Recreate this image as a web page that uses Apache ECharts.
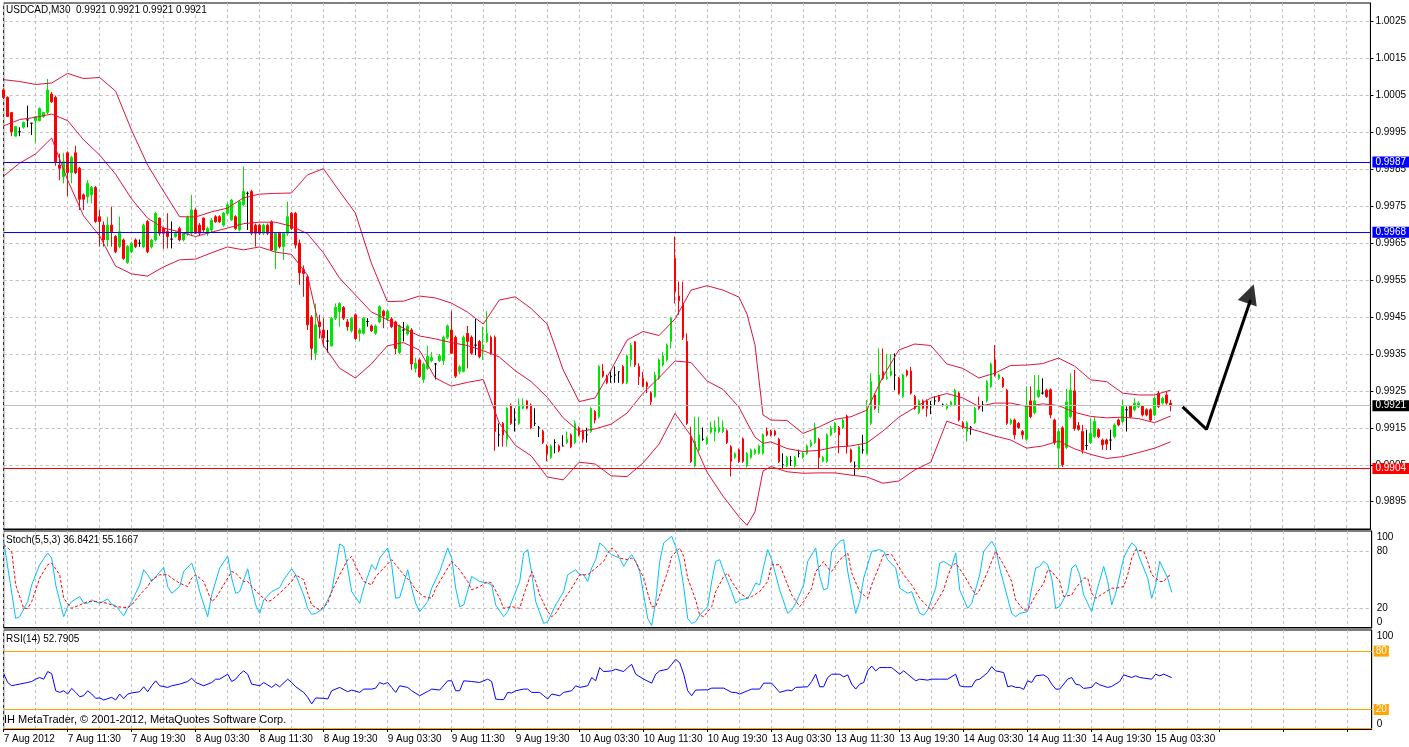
<!DOCTYPE html>
<html><head><meta charset="utf-8">
<script src="https://cdn.jsdelivr.net/npm/echarts@6/dist/echarts.min.js"></script>
<style>html,body{margin:0;padding:0;background:#fff}#c{width:1409px;height:747px}</style>
</head><body><div id="c"></div>
<script>
// ---- DATA (prices in pips: 0.9921 -> 9921) ----
const xLabels = ['7 Aug 2012','7 Aug 11:30','7 Aug 19:30','8 Aug 03:30','8 Aug 11:30','8 Aug 19:30','9 Aug 03:30','9 Aug 11:30','9 Aug 19:30','10 Aug 03:30','10 Aug 11:30','10 Aug 19:30','13 Aug 03:30','13 Aug 11:30','13 Aug 19:30','14 Aug 03:30','14 Aug 11:30','14 Aug 19:30','15 Aug 03:30'];
const priceTicks = [9895,9905,9915,9925,9935,9945,9955,9965,9975,9985,9995,10005,10015,10025];
const stochLabelTicks = [0,20,80,100];
const stochGridTicks = [20,80];
const rsiLevels = [80,20];
const rsiFloor = 0.6;
const hLevels = [9987,9968,9904,9921];
const hColors = ['#0000ff','#0000ff','#ff0000','#c0c0c0'];
const hLabelBg = ['#0000ff','#0000ff','#ff0000','#000000'];
// candles: [open, high, low, close]
const candles = [
[10006.5,10007.0,10004.5,10004.5],[10004.5,10004.8,9999.3,9999.3],[10000.4,10000.6,9994.0,9995.2],[9994.0,9996.6,9994.0,9996.6],
[9995.2,9996.4,9994.0,9995.2],[9996.4,9998.0,9996.0,9997.7],[9998.4,10002.3,9996.4,9998.4],[9997.5,9997.5,9994.3,9997.5],
[9998.2,9999.5,9992.2,9999.3],[9998.2,10001.8,9998.0,10001.5],[9999.3,10000.6,9999.0,10000.4],[10000.4,10009.5,10000.0,10006.5],
[10005.4,10006.0,10003.0,10003.3],[10004.5,10005.0,9986.0,9987.1],[9986.2,9989.3,9982.1,9985.3],[9983.0,9989.5,9981.2,9987.1],
[9989.5,9989.9,9977.8,9984.1],[9984.1,9988.7,9981.2,9988.3],[9989.5,9991.4,9983.7,9984.1],[9985.3,9985.7,9974.0,9976.9],
[9978.1,9978.5,9974.0,9976.9],[9977.6,9982.1,9975.8,9981.2],[9978.1,9980.5,9975.8,9980.1],[9980.1,9980.5,9970.5,9970.9],
[9972.2,9974.0,9964.1,9970.9],[9969.9,9970.9,9964.1,9965.9],[9965.9,9972.2,9964.1,9969.9],[9969.9,9974.9,9964.1,9968.1],
[9966.8,9967.2,9962.3,9962.7],[9964.1,9972.2,9963.7,9968.1],[9965.9,9966.3,9960.5,9960.9],[9959.8,9964.5,9959.4,9964.1],
[9962.7,9965.4,9962.3,9965.0],[9965.9,9966.3,9963.7,9964.1],[9965.0,9966.0,9964.0,9965.0],[9964.1,9970.3,9963.7,9969.9],
[9970.9,9971.3,9962.3,9962.7],[9964.0,9966.3,9963.6,9965.9],[9965.9,9973.5,9965.5,9973.1],[9971.8,9972.0,9967.0,9967.7],
[9969.0,9969.5,9963.5,9967.7],[9968.2,9973.1,9963.6,9966.8],[9966.1,9970.9,9963.6,9966.1],[9966.8,9968.2,9966.5,9967.7],
[9969.0,9969.5,9965.5,9965.9],[9965.9,9968.0,9965.5,9967.7],[9967.7,9972.5,9967.0,9972.0],[9967.7,9978.1,9967.0,9974.0],
[9974.0,9974.5,9967.5,9967.7],[9969.9,9970.5,9967.0,9967.7],[9971.8,9972.0,9968.0,9968.6],[9967.7,9969.5,9967.0,9969.0],
[9968.6,9971.8,9968.0,9971.3],[9972.2,9972.6,9970.5,9970.8],[9972.2,9972.6,9970.5,9970.8],[9969.9,9973.5,9969.5,9973.1],
[9973.1,9976.0,9972.6,9975.4],[9971.3,9977.0,9971.0,9976.7],[9972.2,9972.6,9968.6,9969.0],[9968.6,9976.7,9968.2,9976.3],
[9975.4,9985.8,9975.0,9979.0],[9978.5,9979.0,9968.6,9978.5],[9979.0,9979.5,9967.2,9967.7],[9969.9,9970.3,9964.1,9967.7],
[9969.9,9970.3,9967.2,9967.7],[9967.7,9970.3,9967.2,9969.9],[9969.9,9970.3,9967.2,9967.7],[9970.8,9971.2,9963.0,9963.2],
[9963.0,9968.0,9958.0,9967.7],[9967.7,9968.0,9963.6,9964.1],[9964.1,9968.0,9960.5,9967.7],[9967.7,9976.3,9967.0,9972.2],
[9973.1,9973.5,9968.6,9969.0],[9973.1,9973.5,9963.6,9964.5],[9965.0,9966.0,9953.7,9957.0],[9957.9,9959.0,9950.5,9956.8],
[9955.9,9956.5,9941.5,9942.9],[9945.0,9945.5,9933.4,9936.5],[9935.2,9948.7,9933.4,9942.9],[9943.7,9945.6,9939.2,9942.4],
[9941.5,9944.7,9937.0,9939.4],[9938.5,9941.5,9935.4,9938.5],[9937.2,9945.0,9937.0,9944.7],[9944.7,9948.7,9944.2,9947.6],
[9946.5,9949.0,9942.4,9948.7],[9947.6,9948.0,9944.2,9944.7],[9943.7,9944.5,9941.3,9942.4],[9941.3,9945.0,9940.8,9944.7],
[9945.6,9946.0,9938.8,9939.2],[9940.6,9942.0,9938.4,9941.5],[9940.6,9945.0,9940.2,9944.7],[9943.8,9944.7,9942.4,9943.8],
[9942.6,9943.0,9941.0,9941.3],[9940.6,9943.0,9940.2,9942.6],[9943.7,9948.2,9943.3,9947.8],[9946.6,9947.0,9942.0,9945.3],
[9944.5,9947.0,9944.0,9946.6],[9944.5,9945.0,9942.0,9942.4],[9943.7,9944.0,9935.0,9936.5],[9935.4,9943.0,9935.0,9942.6],
[9941.5,9943.7,9938.4,9941.5],[9940.4,9943.0,9940.0,9942.6],[9941.5,9942.0,9930.7,9932.3],[9931.1,9934.0,9930.0,9932.5],
[9933.4,9933.8,9928.5,9928.9],[9928.1,9932.7,9927.2,9932.3],[9931.1,9937.2,9930.7,9934.3],[9933.2,9935.5,9932.8,9934.0],
[9932.3,9932.5,9928.1,9932.3],[9933.2,9935.0,9932.8,9934.5],[9933.2,9940.0,9932.0,9939.5],[9939.5,9943.0,9939.0,9942.6],
[9941.5,9946.6,9935.0,9935.2],[9939.5,9940.0,9928.5,9929.0],[9930.3,9932.0,9929.5,9931.5],[9930.3,9940.0,9930.0,9939.5],
[9940.6,9942.6,9931.1,9938.4],[9939.5,9940.0,9934.8,9935.2],[9937.4,9944.5,9934.7,9937.4],[9938.4,9938.8,9933.8,9934.3],
[9936.3,9942.4,9933.4,9937.4],[9938.4,9946.6,9938.0,9940.6],[9939.5,9940.0,9934.8,9935.2],[9939.5,9940.0,9908.8,9914.0],
[9913.1,9916.2,9909.9,9913.1],[9916.2,9916.6,9909.9,9913.1],[9911.9,9920.6,9909.9,9920.3],[9921.2,9921.6,9915.8,9916.2],
[9917.1,9920.3,9914.0,9917.1],[9916.2,9923.0,9915.8,9921.2],[9920.3,9923.0,9920.0,9921.2],[9922.3,9922.6,9920.0,9920.3],
[9921.2,9921.6,9914.6,9915.0],[9916.2,9920.3,9915.5,9916.2],[9915.0,9915.5,9912.5,9915.0],[9914.1,9914.5,9910.6,9911.0],
[9910.1,9910.5,9905.9,9907.9],[9907.0,9910.5,9906.6,9910.1],[9911.0,9911.9,9908.1,9911.0],[9910.1,9910.5,9908.4,9908.8],
[9910.1,9913.0,9910.0,9910.1],[9911.0,9914.0,9910.6,9911.9],[9913.1,9913.5,9909.5,9909.9],[9911.0,9917.0,9910.6,9916.2],
[9915.0,9915.4,9912.7,9913.1],[9914.1,9914.5,9911.0,9911.9],[9913.1,9915.0,9911.0,9913.1],[9914.0,9920.6,9913.6,9920.3],
[9919.4,9919.8,9916.2,9917.1],[9918.0,9932.0,9917.6,9931.6],[9930.4,9932.3,9928.6,9929.0],[9929.0,9929.4,9926.8,9927.2],
[9928.9,9930.2,9927.2,9928.9],[9929.3,9931.6,9927.2,9929.3],[9930.2,9930.2,9927.2,9930.2],[9931.6,9932.0,9926.8,9927.2],
[9927.2,9934.9,9926.8,9934.5],[9933.4,9938.0,9931.6,9937.4],[9938.3,9938.5,9931.5,9932.0],[9931.6,9932.5,9926.6,9928.9],
[9928.4,9930.2,9926.0,9926.2],[9927.2,9927.6,9924.4,9926.2],[9924.5,9924.9,9921.2,9922.1],[9923.5,9930.2,9923.1,9929.3],
[9928.4,9933.8,9928.0,9933.4],[9932.0,9935.6,9931.6,9934.5],[9933.4,9937.8,9933.0,9937.4],[9938.4,9945.0,9936.5,9944.7],
[9960.9,9966.8,9948.7,9951.9],[9950.7,9954.6,9945.6,9949.4],[9948.7,9954.6,9938.8,9939.5],[9938.4,9940.6,9915.8,9916.2],
[9912.6,9915.3,9905.5,9905.9],[9904.7,9918.0,9904.3,9911.3],[9909.0,9918.0,9908.6,9913.1],[9911.9,9915.1,9911.5,9911.9],
[9910.8,9912.6,9910.4,9912.2],[9913.8,9916.7,9913.4,9915.1],[9914.0,9917.0,9911.3,9915.1],[9914.0,9918.0,9913.6,9915.1],
[9914.0,9917.0,9913.6,9915.1],[9914.2,9914.6,9910.6,9911.0],[9909.9,9910.3,9901.8,9905.9],[9907.0,9908.4,9906.6,9908.0],
[9909.0,9909.4,9905.5,9905.9],[9912.0,9912.4,9905.5,9905.9],[9904.7,9908.4,9904.3,9908.1],[9907.0,9909.4,9906.6,9909.0],
[9908.1,9909.4,9907.7,9909.0],[9908.1,9910.5,9907.7,9910.1],[9908.1,9913.5,9907.7,9913.1],[9914.1,9915.1,9912.7,9913.1],
[9914.1,9914.5,9912.7,9913.1],[9914.1,9914.5,9912.7,9913.1],[9911.9,9912.3,9905.5,9905.9],[9905.0,9908.1,9904.0,9905.0],
[9904.7,9907.4,9904.3,9907.0],[9906.1,9907.4,9904.7,9906.1],[9904.7,9907.4,9904.3,9907.0],[9908.1,9909.1,9907.0,9908.1],
[9907.0,9908.5,9906.6,9908.1],[9908.1,9910.5,9907.7,9910.1],[9910.1,9911.8,9909.7,9911.0],[9911.0,9916.4,9910.6,9915.1],
[9911.9,9912.3,9904.0,9907.0],[9906.0,9907.4,9905.6,9907.0],[9905.9,9913.5,9905.5,9913.1],[9913.1,9915.5,9912.7,9914.9],
[9914.0,9916.6,9913.6,9916.2],[9915.1,9915.5,9908.1,9913.1],[9915.1,9917.5,9914.7,9917.1],[9918.2,9918.6,9908.0,9909.9],
[9909.0,9909.4,9905.5,9905.9],[9904.7,9905.9,9902.0,9904.7],[9904.0,9910.3,9903.6,9909.9],[9909.0,9913.1,9908.0,9909.0],
[9908.1,9922.5,9907.7,9920.3],[9916.2,9929.8,9915.8,9927.5],[9923.9,9924.3,9919.9,9920.3],[9921.2,9936.5,9919.0,9929.3],
[9930.2,9936.5,9928.0,9928.4],[9928.4,9935.0,9928.0,9928.7],[9929.3,9935.0,9928.9,9930.4],[9929.3,9935.2,9925.2,9929.3],
[9928.4,9928.8,9924.0,9924.4],[9923.5,9929.7,9923.1,9929.3],[9930.4,9930.8,9928.9,9929.3],[9930.4,9931.5,9924.0,9924.4],
[9923.5,9923.9,9919.9,9920.3],[9919.1,9922.7,9918.7,9922.3],[9922.3,9922.7,9920.0,9920.3],[9922.3,9922.7,9918.0,9920.3],
[9921.2,9922.3,9918.7,9921.2],[9922.3,9923.5,9921.2,9922.3],[9923.5,9923.9,9922.0,9922.3],[9921.2,9921.6,9920.8,9921.2],
[9920.3,9921.6,9919.9,9921.2],[9921.2,9922.3,9920.8,9922.0],[9921.2,9925.6,9920.8,9925.2],[9924.4,9924.8,9916.7,9917.1],
[9916.4,9916.8,9914.7,9915.1],[9914.0,9916.8,9911.3,9916.4],[9915.1,9915.5,9913.1,9915.1],[9916.4,9920.7,9916.0,9920.3],
[9921.2,9923.5,9919.9,9920.3],[9921.2,9922.3,9919.4,9921.2],[9922.3,9927.9,9921.9,9927.5],[9926.2,9932.7,9925.8,9932.3],
[9933.4,9937.4,9928.9,9929.3],[9928.4,9929.7,9928.0,9929.3],[9928.4,9928.8,9925.8,9926.2],[9925.2,9925.6,9915.8,9916.2],
[9916.2,9917.5,9915.8,9917.1],[9917.1,9917.5,9911.9,9913.1],[9916.2,9916.6,9914.7,9915.1],[9914.0,9914.4,9911.9,9913.1],
[9911.9,9926.2,9911.5,9921.2],[9922.3,9926.2,9917.6,9918.0],[9919.1,9929.3,9918.7,9922.3],[9923.5,9929.3,9923.1,9925.2],
[9924.4,9928.4,9924.0,9924.4],[9925.2,9925.6,9923.1,9923.5],[9925.3,9925.7,9917.6,9918.5],[9917.1,9917.5,9910.4,9911.0],
[9909.5,9914.9,9904.0,9914.0],[9915.0,9915.4,9904.4,9905.0],[9909.7,9925.5,9909.3,9922.0],[9918.0,9929.8,9917.6,9925.2],
[9925.0,9930.7,9914.2,9914.8],[9915.6,9916.6,9914.2,9914.6],[9914.0,9915.8,9908.0,9909.0],[9910.2,9914.5,9909.0,9910.2],
[9911.0,9917.5,9910.6,9913.5],[9912.6,9918.0,9912.2,9916.7],[9914.5,9914.9,9912.2,9912.6],[9911.7,9912.1,9909.0,9910.4],
[9911.7,9912.1,9909.0,9910.6],[9911.7,9914.5,9909.0,9911.7],[9912.6,9916.2,9912.2,9915.8],[9917.1,9917.5,9915.4,9915.8],
[9916.7,9922.6,9916.3,9920.8],[9919.9,9920.8,9914.0,9919.9],[9920.8,9921.2,9917.6,9918.0],[9919.9,9923.0,9919.5,9921.7],
[9920.8,9922.2,9920.4,9921.7],[9920.8,9921.2,9918.1,9918.5],[9919.9,9920.3,9918.1,9918.5],[9919.9,9920.3,9916.7,9917.1],
[9918.5,9923.5,9918.1,9923.0],[9924.4,9925.0,9920.4,9920.8],[9921.7,9923.4,9921.3,9923.0],[9923.9,9924.9,9921.3,9921.7],
[9921.7,9922.6,9919.5,9921.0]
];
// Bollinger bands read at these bars
const bandBars = [0,4,8,12,16,20,24,28,32,36,40,44,48,52,56,60,64,68,72,76,80,84,88,92,96,100,104,108,112,116,120,124,128,132,136,140,144,148,152,156,160,164,168,172,176,180,184,186,188,190,192,196,200,204,208,212,216,220,224,228,232,236,240,244,248,252,256,260,264,268,272,276,280,284,288,292];
const bandUpper = [10009.3,10008.8,10008.0,10008.4,10011.0,10009.6,10009.9,10006.2,9995.6,9986.2,9979.1,9972.2,9972.1,9973.5,9974.5,9977.3,9978.3,9978.5,9978.6,9983.5,9985.2,9979.1,9973.2,9959.6,9949.2,9949.3,9950.7,9950.2,9948.8,9946.4,9943.1,9949.6,9950.5,9947.3,9943.1,9930.7,9922.1,9923.1,9930.7,9938.8,9941.1,9940.0,9944.5,9952.3,9953.5,9952.3,9950.4,9945.8,9937.5,9918.5,9917.1,9917.0,9913.5,9915.2,9917.3,9918.0,9919.8,9928.8,9936.1,9937.7,9937.3,9932.3,9931.1,9928.5,9929.8,9931.9,9932.0,9932.4,9933.9,9931.7,9928.0,9927.5,9924.4,9923.9,9923.9,9925.2];
const bandMiddle = [9996.8,9998.5,9999.1,10000.0,9998.2,9993.0,9988.9,9983.7,9977.0,9971.8,9969.1,9968.1,9966.8,9968.0,9969.1,9970.3,9970.7,9970.7,9969.6,9967.6,9962.4,9955.6,9951.0,9946.4,9944.3,9942.0,9939.9,9939.1,9938.1,9937.3,9935.9,9934.2,9930.5,9927.5,9923.3,9917.7,9914.0,9914.7,9916.0,9919.0,9924.4,9928.6,9933.1,9932.7,9927.7,9925.4,9920.6,9916.4,9912.5,9910.8,9911.2,9909.4,9908.6,9908.9,9909.8,9910.1,9910.9,9914.1,9917.9,9920.5,9923.1,9924.3,9923.1,9920.8,9921.7,9921.7,9920.8,9921.5,9921.0,9919.2,9918.1,9917.7,9917.9,9917.5,9916.4,9918.2];
const bandLower = [9983.2,9986.7,9989.2,9993.5,9982.1,9972.4,9967.0,9958.8,9956.7,9956.1,9958.6,9960.5,9960.7,9962.4,9964.0,9963.2,9964.0,9962.6,9962.0,9956.4,9937.4,9931.2,9928.5,9932.3,9937.2,9938.1,9936.1,9928.5,9926.3,9927.3,9928.1,9916.3,9910.3,9907.4,9901.7,9900.9,9905.7,9905.2,9902.0,9901.8,9905.5,9910.6,9918.9,9912.8,9903.0,9896.5,9890.9,9888.6,9892.2,9903.3,9904.5,9903.1,9902.7,9902.8,9902.8,9902.2,9901.7,9900.0,9900.6,9903.6,9905.7,9916.8,9915.3,9914.1,9912.8,9911.7,9909.5,9910.1,9911.4,9909.3,9907.8,9906.7,9907.2,9908.3,9909.5,9911.2];
// hand-drawn arrow (bar, price in pips)
const arrowPath = [[294.8,9920.7],[300.5,9914.6],[311.7,9949.6]];
const arrowHead = [[312.25,9951.3]];
// Stochastic (5,5,3): [bar, value]
const stochMain = [[0,90.6],[3,9.4],[4,11.2],[6,27.1],[7,44.7],[9,65.9],[11,78.2],[12,72.9],[13,44.7],[15,11.2],[16,21.8],[17,27.1],[19,32.4],[20,25.3],[21,25.3],[22,28.8],[24,25.3],[26,29.9],[27,24.2],[28,22.8],[30,12.2],[31,20],[32,27.1],[34,44.7],[35,60.6],[36,55.3],[37,48.2],[40,63.1],[41,42.9],[42,35.9],[44,42.9],[45,58.8],[47,67.6],[48,55.3],[49,37.6],[51,11.2],[52,34.1],[54,62.4],[56,74.7],[57,51.8],[58,35.9],[59,37.6],[61,61.6],[62,41.2],[63,23.5],[64,14.7],[65,28.8],[67,37.6],[69,41.9],[70,50],[72,61.6],[73,55.3],[75,34.1],[76,20],[77,13.6],[78,14.7],[80,20],[81,28.8],[82,37.6],[83,62.4],[84,87.8],[85,85.3],[86,62.4],[87,37.6],[89,25.3],[90,41.2],[92,65.9],[93,60.6],[94,72.9],[96,83.5],[97,65.9],[98,30.6],[99,31.3],[101,60.6],[102,41.2],[103,25.3],[104,16.5],[106,27.1],[107,41.2],[109,58.8],[111,83.5],[112,72.9],[113,41.2],[114,21.8],[115,23.5],[117,53.5],[119,48.2],[121,46.5],[122,44.7],[123,23.5],[125,11.2],[126,16.5],[127,27.1],[129,48.2],[130,78.2],[131,81.8],[132,57.1],[133,27.1],[135,4.1],[136,5.9],[138,23.5],[140,37.6],[141,55.3],[143,60.6],[144,55.3],[145,55.3],[146,48.2],[147,62.4],[148,71.2],[149,88.8],[150,85.3],[151,80],[152,76.5],[154,72.9],[155,64.1],[156,71.2],[157,76.5],[158,69.4],[159,58.8],[160,34.1],[161,9.4],[162,1.6],[163,27.1],[164,69.4],[165,88.8],[167,95.9],[168,85],[169,69.4],[170,42.9],[171,9.4],[172,4.1],[173,5.9],[174,12.9],[176,21.8],[177,48.2],[178,69.4],[179,71.2],[180,58.8],[182,37.6],[183,25.3],[184,28.8],[186,30.6],[187,37.6],[188,46.5],[189,44.7],[190,64.1],[191,81.8],[192,71.2],[194,39.4],[196,14.7],[197,18.2],[198,25.3],[200,44.7],[201,69.4],[203,83.5],[204,53.5],[205,39.4],[206,41.2],[207,80],[209,90.6],[210,92.3],[211,58.8],[213,14.7],[214,27.1],[215,51.8],[217,80],[219,81.8],[220,80],[221,71.2],[223,62.4],[224,41.2],[226,35.9],[227,37.6],[229,14.7],[230,12.9],[231,18.2],[233,41.2],[234,67.6],[235,69.4],[237,64.1],[238,78.2],[239,39.4],[241,20],[242,25.3],[244,55.3],[245,80],[247,90.6],[248,83.5],[249,62.4],[251,30.6],[252,14.7],[253,11.2],[254,14.7],[256,16.5],[257,41.2],[258,62.4],[259,64.1],[260,69.4],[261,65.9],[262,51.8],[263,20],[264,21.8],[266,37.6],[267,62.4],[268,65.9],[269,55.3],[270,34.1],[272,16.5],[273,34.1],[275,64.1],[276,48.2],[277,23.5],[278,35.9],[280,72.9],[281,82],[282,88.8],[283,85.3],[284,72.9],[286,51.8],[287,30.6],[288,44.7],[289,69.4],[290,60.6],[291,51.8],[292,36.84]];
const stochSignal = [[0,87.1],[2,80],[3,44.7],[5,20],[6,20],[7,27.1],[9,51.8],[11,65.9],[12,67.6],[14,55.3],[15,30.6],[17,20],[19,23.5],[21,27.1],[23,27.1],[26,25.3],[28,21.8],[31,20.7],[32,23.5],[34,34.1],[36,42.9],[37,50],[39,55.3],[41,55.3],[42,51.8],[44,46.5],[46,42.9],[47,51.8],[48,55.3],[50,48.2],[51,37.6],[52,27.1],[53,30.6],[55,44.7],[57,58.8],[58,57.1],[60,48.2],[61,48.2],[62,42.9],[64,34.1],[66,27.1],[67,28.8],[69,35.9],[72,48.2],[73,55.3],[75,50],[76,35.9],[77,23.5],[79,18.2],[81,25.3],[82,37.6],[84,55.3],[86,71.2],[87,74.7],[88,64.1],[90,48.2],[92,44.7],[93,53.5],[95,62.4],[97,71.2],[98,65.9],[100,55.3],[102,46.5],[103,39.4],[105,32.4],[107,30.6],[108,41.2],[110,55.3],[112,69.4],[114,60.6],[116,48.2],[117,39.4],[119,42.9],[121,48.2],[122,46.5],[124,30.6],[125,20],[127,21.8],[129,20],[130,34.1],[132,58.8],[133,48.2],[134,34.1],[136,16.5],[137,11.2],[138,14.7],[140,28.8],[142,41.2],[144,55.3],[145,55.3],[146,55.3],[148,62.4],[150,69.4],[151,78.2],[152,83.5],[153,80],[154,72.9],[156,71.2],[157,72.9],[158,69.4],[160,51.8],[161,35.9],[162,21.8],[163,21.8],[164,34.1],[166,58.8],[167,74.7],[169,83.5],[170,74.7],[171,51.8],[173,28.8],[174,12.9],[175,11.2],[177,21.8],[178,37.6],[180,53.5],[181,57.1],[182,48.2],[184,35.9],[186,30.6],[187,32.4],[189,37.6],[191,48.2],[192,65.9],[194,65.9],[195,55.3],[197,34.1],[199,21.8],[200,27.1],[202,41.2],[203,58.8],[205,69.4],[206,62.4],[207,58.8],[209,71.2],[211,78.2],[212,57.1],[214,37.6],[216,30.6],[217,44.7],[219,65.9],[220,76.5],[222,76.5],[223,69.4],[225,55.3],[227,44.7],[229,30.6],[231,21.8],[232,18.2],[233,25.3],[235,39.4],[236,53.5],[237,64.1],[238,67.6],[240,55.3],[242,41.2],[243,34.1],[244,39.4],[246,58.8],[248,80],[250,65.9],[252,48.2],[253,28.8],[255,18.2],[256,18.2],[258,34.1],[260,46.5],[261,60.6],[262,58.8],[264,48.2],[265,32.4],[267,34.1],[268,41.2],[270,51.8],[271,51.8],[272,35.9],[273,30.6],[275,35.9],[277,41.2],[278,41.2],[280,42.9],[281,55.3],[282,72.9],[283,81.8],[285,80],[286,69.4],[287,55.3],[289,48.2],[290,48.2],[291,53.5],[292,55.17]];
// RSI(14): [bar, value]
const rsi = [[0,56.9],[1,47.8],[2,44.4],[3,45.4],[4,46.1],[6,47.8],[7,48.8],[8,51.2],[9,52.9],[10,51.2],[11,59.0],[12,56.9],[13,39.3],[14,37.6],[15,39.3],[16,35.9],[17,41.7],[18,37.6],[19,33.2],[20,34.2],[21,39.3],[22,35.9],[23,31.5],[24,31.9],[25,29.8],[27,32.5],[28,29.8],[29,35.9],[30,31.2],[31,35.9],[32,37.0],[34,38.3],[35,43.4],[36,38.3],[37,44.4],[38,49.5],[39,44.4],[41,42.7],[42,44.4],[44,46.1],[46,48.8],[47,52.2],[48,47.8],[50,44.4],[52,47.8],[53,51.2],[54,51.2],[56,56.3],[57,48.8],[58,51.2],[59,56.3],[60,59.7],[61,56.3],[62,46.1],[64,44.4],[65,47.8],[67,42.7],[68,46.1],[69,43.4],[71,51.2],[72,47.8],[73,43.4],[75,37.6],[76,32.5],[77,25.8],[78,31.9],[80,31.5],[81,30.8],[82,39.3],[84,42.7],[86,38.3],[87,40.0],[89,37.6],[90,41.0],[92,41.0],[93,42.0],[94,47.8],[95,46.1],[96,47.8],[97,42.7],[98,37.6],[99,44.4],[101,42.7],[102,39.3],[104,34.2],[106,38.6],[107,41.0],[109,40.0],[111,49.5],[112,49.5],[113,39.3],[114,39.3],[115,49.5],[117,48.8],[119,47.8],[121,51.2],[122,48.8],[123,30.8],[124,30.2],[125,30.2],[126,37.6],[127,37.0],[128,39.3],[130,41.0],[131,41.0],[132,37.6],[134,37.6],[135,34.2],[136,30.8],[137,35.9],[139,34.2],[140,37.6],[142,39.3],[143,44.4],[144,42.7],[146,44.4],[147,52.9],[148,49.5],[149,63.1],[150,59.0],[152,59.7],[153,61.4],[155,59.0],[156,63.1],[157,66.4],[158,56.3],[160,51.2],[162,47.1],[163,56.3],[164,59.7],[166,61.4],[167,66.4],[168,71.5],[169,68.1],[170,56.3],[171,39.3],[172,34.2],[173,40.0],[176,40.3],[177,42.0],[180,42.0],[182,37.6],[183,37.6],[184,35.9],[186,39.3],[187,41.0],[189,41.0],[190,47.1],[192,47.1],[194,37.6],[196,40.0],[197,39.3],[198,42.7],[201,43.4],[202,48.8],[203,56.3],[204,43.4],[205,43.4],[206,52.9],[207,56.3],[209,56.3],[210,53.6],[211,55.6],[212,46.1],[213,41.0],[214,46.1],[215,47.8],[216,59.7],[217,64.7],[218,59.7],[219,63.1],[221,63.1],[222,63.1],[224,56.3],[225,59.7],[226,56.3],[228,49.5],[229,51.2],[231,50.2],[232,51.2],[234,51.2],[236,51.2],[238,56.3],[239,44.4],[240,43.4],[242,43.4],[243,50.2],[244,51.2],[246,58.0],[247,64.1],[248,59.7],[250,58.0],[251,43.4],[252,44.4],[253,42.7],[254,42.7],[255,40.7],[256,49.5],[257,47.8],[258,54.6],[260,55.6],[261,52.9],[262,46.1],[263,41.0],[264,41.0],[266,51.2],[267,52.9],[268,46.1],[269,45.1],[270,41.7],[272,42.7],[273,47.8],[274,45.4],[276,42.7],[277,43.7],[279,48.8],[280,55.6],[282,52.9],[283,54.6],[284,52.9],[287,51.2],[288,56.3],[289,54.6],[290,56.3],[292,52.79]];

// ---- CHART ----
const FONT = 'Liberation Sans';
const NCAT = 343;
const cats = Array.from({length: NCAT}, (_, i) => String(i));
const L = 3.7, R = 37.3;
const txt = (s, left, top, size) => ({text: s, left, top, padding: 0, textStyle: {fontSize: size || 10, fontWeight: 'normal', color: '#000', fontFamily: FONT}});
const pair = (xs, ys) => xs.map((x, i) => [x, ys[i]]);

const xAxes = [0, 1, 2].map(i => ({
  type: 'category', gridIndex: i, data: cats, boundaryGap: false,
  axisLine: {show: true, lineStyle: {color: '#000'}},
  axisTick: {show: i === 2, interval: 15, length: 3, lineStyle: {color: '#000'}},
  axisLabel: {show: i === 2, interval: 15, align: 'left', margin: 5, fontSize: 10, color: '#000', fontFamily: FONT,
    formatter: (v, idx) => (idx % 16 === 0 && xLabels[idx / 16]) ? xLabels[idx / 16] : ''},
  splitLine: {show: true, interval: 7, lineStyle: {color: '#c0c0c0', type: [3, 3], width: 1}}
}));

const axisText = {fontSize: 10, color: '#000', fontFamily: FONT, margin: 5};

const option = {
  animation: false,
  backgroundColor: '#fff',
  title: [
    txt('USDCAD,M30  0.9921 0.9921 0.9921 0.9921', 6, 5),
    txt('Stoch(5,5,3) 36.8421 55.1667', 6, 535),
    txt('RSI(14) 52.7905', 6, 634),
    txt('IH MetaTrader, \u00a9 2001-2012, MetaQuotes Software Corp.', 4, 714, 11)
  ],
  grid: [
    {left: L, right: R, top: 3, height: 526, show: true, borderColor: '#000', borderWidth: 1, backgroundColor: '#fff'},
    {left: L, right: R, top: 531, height: 97, show: true, borderColor: '#000', borderWidth: 1},
    {left: L, right: R, top: 630, height: 99, show: true, borderColor: '#000', borderWidth: 1}
  ],
  xAxis: xAxes,
  yAxis: [
    {type: 'value', gridIndex: 0, position: 'right', min: 9887.6, max: 10030.07,
     axisLine: {show: true, lineStyle: {color: '#000'}},
     axisTick: {show: true, length: 3, customValues: priceTicks, lineStyle: {color: '#000'}},
     axisLabel: Object.assign({customValues: priceTicks, formatter: v => (v / 10000).toFixed(4)}, axisText),
     splitLine: {show: true, lineStyle: {color: '#c0c0c0', type: [3, 3]}}},
    {type: 'value', gridIndex: 1, position: 'right', min: -0.7, max: 101.4,
     axisLine: {show: true, lineStyle: {color: '#000'}},
     axisTick: {show: false, customValues: stochGridTicks},
     axisLabel: Object.assign({customValues: stochLabelTicks, verticalAlignMaxLabel: 'top', verticalAlignMinLabel: 'bottom'}, axisText),
     splitLine: {show: true, lineStyle: {color: '#c0c0c0', type: [3, 3]}}},
    {type: 'value', gridIndex: 2, position: 'right', min: 0, max: 101.7,
     axisLine: {show: true, lineStyle: {color: '#000'}},
     axisTick: {show: false, customValues: [100]},
     axisLabel: Object.assign({customValues: [0, 100], verticalAlignMaxLabel: 'top', verticalAlignMinLabel: 'bottom'}, axisText),
     splitLine: {show: false}}
  ],
  series: [
    {type: 'candlestick', xAxisIndex: 0, yAxisIndex: 0, barWidth: 2,
     data: candles.map(d => [d[0], d[3], d[2], d[1]]),
     itemStyle: {color: '#00e600', color0: '#ff0000', borderColor: '#00e600', borderColor0: '#ff0000', borderColorDoji: '#000000', borderWidth: 1},
     markLine: {silent: true, symbol: ['none', 'none'], animation: false,
       data: hLevels.map((v, i) => ({yAxis: v,
         lineStyle: {color: hColors[i], type: 'solid', width: 1},
         label: {show: true, position: 'end', distance: 2, formatter: (v / 10000).toFixed(4), color: '#fff',
                 backgroundColor: hLabelBg[i], padding: [1, 3, 0, 3], fontSize: 10, fontFamily: FONT}}))}},
    {type: 'line', xAxisIndex: 0, yAxisIndex: 0, data: pair(bandBars, bandUpper), symbol: 'none', lineStyle: {color: '#dc143c', width: 1}, z: 3},
    {type: 'line', xAxisIndex: 0, yAxisIndex: 0, data: pair(bandBars, bandMiddle), symbol: 'none', lineStyle: {color: '#dc143c', width: 1}, z: 3},
    {type: 'line', xAxisIndex: 0, yAxisIndex: 0, data: pair(bandBars, bandLower), symbol: 'none', lineStyle: {color: '#dc143c', width: 1}, z: 3},
    {type: 'line', xAxisIndex: 0, yAxisIndex: 0, data: arrowPath, symbol: 'none', lineStyle: {color: '#000', width: 3}, z: 5},
    {type: 'scatter', xAxisIndex: 0, yAxisIndex: 0, data: arrowHead, symbol: 'triangle', symbolSize: [20, 20], symbolRotate: -19, itemStyle: {color: '#000'}, z: 5},
    {type: 'line', xAxisIndex: 1, yAxisIndex: 1, data: stochMain, symbol: 'none', lineStyle: {color: '#00bfff', width: 1}},
    {type: 'line', xAxisIndex: 1, yAxisIndex: 1, data: stochSignal, symbol: 'none', lineStyle: {color: '#ff0000', width: 1, type: [3, 2]}},
    {type: 'line', xAxisIndex: 2, yAxisIndex: 2, data: rsi, symbol: 'none', lineStyle: {color: '#0000ff', width: 1},
     markLine: {silent: true, symbol: ['none', 'none'], animation: false,
       data: rsiLevels.map(v => ({yAxis: v, lineStyle: {color: '#ffa500', type: 'solid', width: 1},
         label: {show: true, position: 'end', distance: 2, formatter: String(v), color: '#fff', backgroundColor: '#ffa500',
                 padding: [1, 2, 0, 2], fontSize: 10, fontFamily: FONT}})).concat([
         {yAxis: rsiFloor, lineStyle: {color: '#ffa500', type: 'solid', width: 1}, label: {show: false}}])}}
  ]
};
const chart = echarts.init(document.getElementById('c'), null, {renderer: 'canvas'});
chart.setOption(option);
</script></body></html>
